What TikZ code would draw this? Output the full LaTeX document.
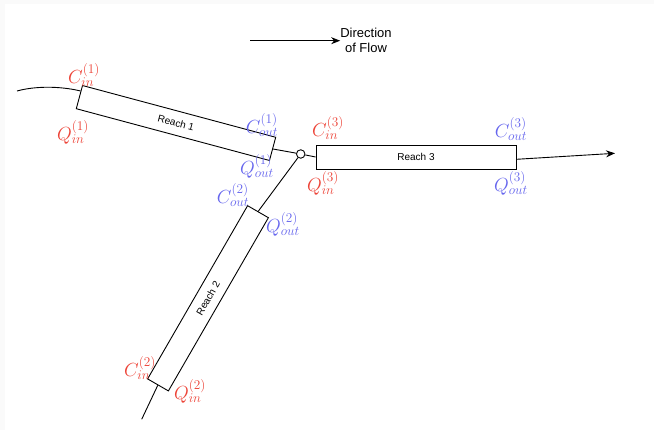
\RequirePackage{fix-cm}
\documentclass[tikz,border=0pt]{standalone}
\usepackage{fontspec}
\setmainfont{Liberation Sans}
\usetikzlibrary{arrows.meta,calc}

\definecolor{inred}{RGB}{237,67,55}
\definecolor{outblue}{RGB}{102,102,238}
\definecolor{edgegray}{RGB}{250,250,250}

\tikzset{
  reach/.style={draw, line width=0.9pt, fill=white, minimum width=200pt,
    minimum height=24pt, inner sep=0pt, font=\fontsize{10}{12}\selectfont},
  flow/.style={line width=0.9pt},
  flowarrow/.style={line width=0.9pt, -{Stealth[length=9pt,width=7pt]}},
  junction/.style={circle, draw, line width=0.9pt, fill=white,
    minimum size=8.5pt, inner sep=0pt},
  inlab/.style={text=inred, inner sep=0pt, font=\fontsize{19}{21}\selectfont},
  outlab/.style={text=outblue, inner sep=0pt, font=\fontsize{19}{21}\selectfont}
}

\begin{document}
\begin{tikzpicture}[x=1pt, y=-1pt]
  % page and faint frame
  \fill[edgegray] (0,0) rectangle (654,430);
  \fill[white] (5,4) rectangle (654,430);
  \useasboundingbox (0,0) rectangle (654,430);

  % legend
  \coordinate (legA) at (250,40.7);
  \node[inner sep=0pt, align=center, font=\fontsize{13}{15}\selectfont]
    (legtxt) at (366,40.5) {Direction\\of Flow};
  \draw[flowarrow] (legA) -- (legtxt.west |- legA);

  % reaches
  \node[reach, rotate=-15] (r1) at (176,123) {Reach 1};
  \node[reach, rotate=60] (r2) at (208,298.3) {Reach 2};
  \node[reach] (r3) at (416,157) {Reach 3};
  \node[junction] (j) at (300.7,154) {};

  % connectors
  \coordinate (src1) at (17,91);
  \coordinate (src2) at (141.7,419.3);
  \coordinate (sink) at (615,153.3);
  \draw[flow] (src1) .. controls (35,86) and (60,86) ..
    ($(r1.north west)!0.25!(r1.south west)$);
  \draw[flow] (r1.east) -- (j);
  \draw[flow] (src2) -- (r2.west);
  \draw[flow] (r2.east) -- (j);
  \draw[flow] (j) -- (r3.west);
  \draw[flowarrow] ($(r3.east)+(0,2.3)$) -- (sink);

  % concentration and discharge labels
  \node[inlab]  (cin1)  at (84,75)    {$C_{in}^{(1)}$};
  \node[inlab]  (qin1)  at (73,132)   {$Q_{in}^{(1)}$};
  \node[outlab] (cout1) at (262,125)  {$C_{out}^{(1)}$};
  \node[outlab] (qout1) at (257,166)  {$Q_{out}^{(1)}$};

  \node[outlab] (cout2) at (233,195)  {$C_{out}^{(2)}$};
  \node[outlab] (qout2) at (283,224)  {$Q_{out}^{(2)}$};
  \node[inlab]  (cin2)  at (140,368)  {$C_{in}^{(2)}$};
  \node[inlab]  (qin2)  at (190,391)  {$Q_{in}^{(2)}$};

  \node[inlab]  (cin3)  at (328,128)  {$C_{in}^{(3)}$};
  \node[inlab]  (qin3)  at (323,183)  {$Q_{in}^{(3)}$};
  \node[outlab] (cout3) at (511,129)  {$C_{out}^{(3)}$};
  \node[outlab] (qout3) at (511,183)  {$Q_{out}^{(3)}$};
\end{tikzpicture}
\end{document}
